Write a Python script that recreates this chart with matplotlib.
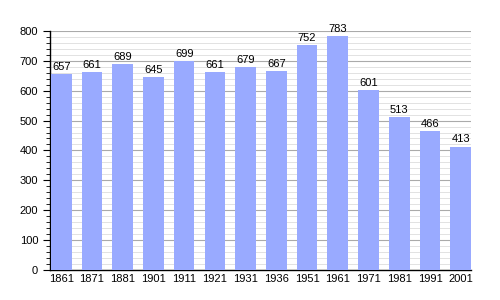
import matplotlib.pyplot as plt
from matplotlib.ticker import MultipleLocator

plt.rcParams['font.family'] = ['Liberation Sans', 'DejaVu Sans']

years = ["1861", "1871", "1881", "1901", "1911", "1921", "1931", "1936",
         "1951", "1961", "1971", "1981", "1991", "2001"]
population = [657, 661, 689, 645, 699, 661, 679, 667, 752, 783, 601, 513, 466, 413]

fig = plt.figure(figsize=(5, 3), dpi=100)
ax = fig.add_axes([0.1, 0.1, 0.842, 0.797])

bar_w = 0.67
x = range(len(years))
ax.bar(x, population, width=bar_w, color="#99aaff", zorder=3)
for i, v in enumerate(population):
    ax.text(i, v + 7, str(v), ha="center", va="bottom", fontsize=8, zorder=4)

ax.set_xlim(-bar_w / 2 - 0.03, len(years) - 1 + bar_w / 2)
ax.set_ylim(0, 800)
ax.set_xticks(list(x))
ax.set_xticklabels(years)
ax.yaxis.set_major_locator(MultipleLocator(100))
ax.yaxis.set_minor_locator(MultipleLocator(20))
ax.grid(axis="y", which="major", color="#aaaaaa", linewidth=0.8, zorder=0)
ax.grid(axis="y", which="minor", color="#dddddd", linewidth=0.6, zorder=0)

for s in ["top", "right"]:
    ax.spines[s].set_visible(False)
ax.spines["left"].set_linewidth(1)
ax.spines["bottom"].set_linewidth(1)
ax.tick_params(axis="x", length=0, labelsize=8, pad=3)
ax.tick_params(axis="y", which="major", length=5, labelsize=8)
ax.tick_params(axis="y", which="minor", length=3)

fig.savefig("out.png", dpi=100)
